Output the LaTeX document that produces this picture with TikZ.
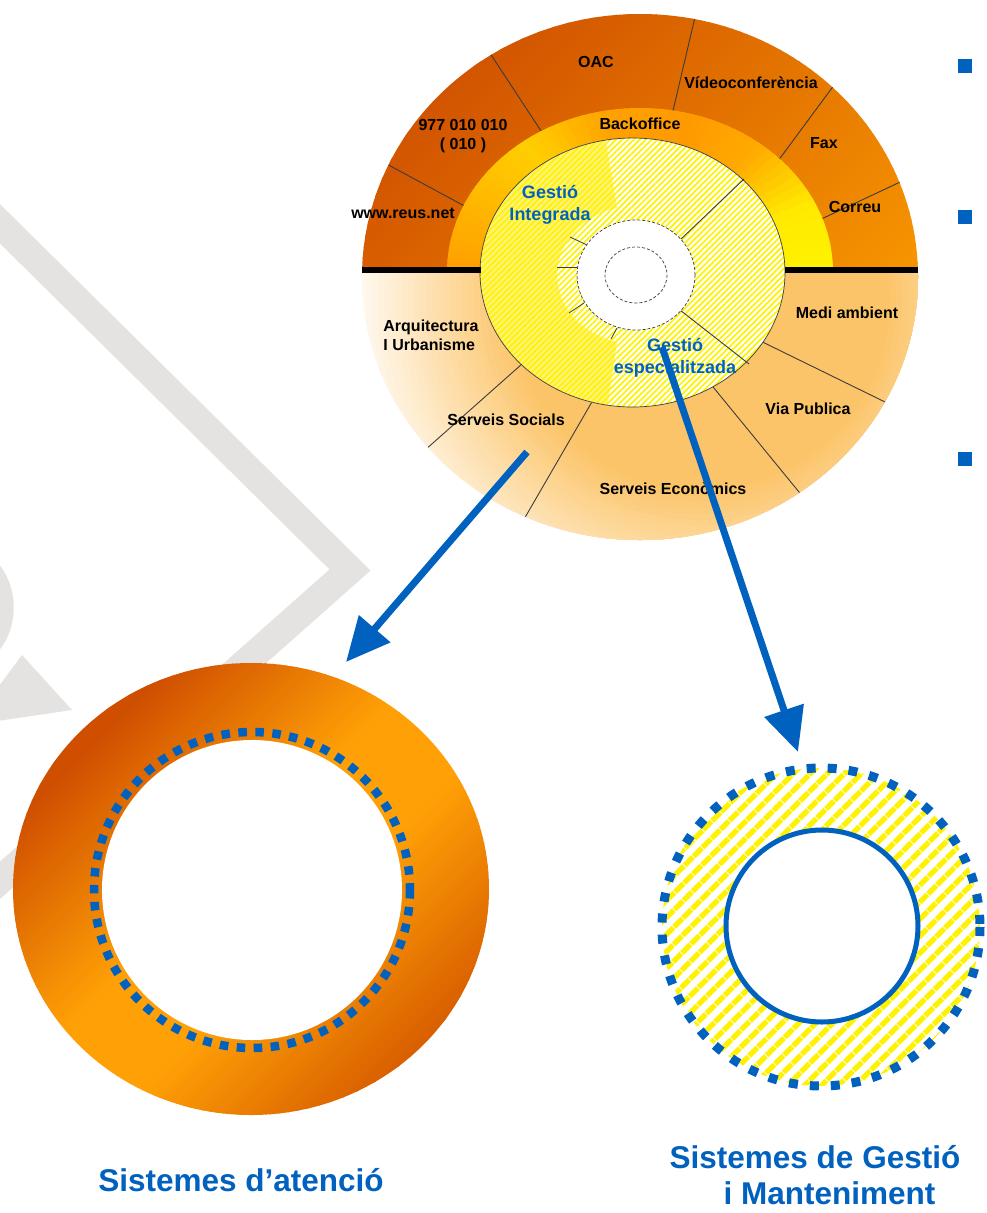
\documentclass[tikz,border=0pt]{standalone}
\usepackage{fontspec}
\setmainfont{Liberation Sans}
\usetikzlibrary{arrows.meta,patterns.meta}

\definecolor{azul}{HTML}{0062BE}
\definecolor{marca}{HTML}{E4E3E1}
\definecolor{tarongaFosc}{HTML}{D25400}
\definecolor{tarongaClar}{HTML}{F79600}
\definecolor{anellFosc}{HTML}{CF4E00}
\definecolor{anellViu}{HTML}{FFA006}
\definecolor{anellBaix}{HTML}{D96000}
\definecolor{taronjaB}{HTML}{FF9900}
\definecolor{groc}{HTML}{FFF200}
\definecolor{grocPal}{HTML}{FFF27A}
\definecolor{crema}{HTML}{FCC468}
\definecolor{linia}{HTML}{3C3C3C}

\begin{document}
\begin{tikzpicture}[x=1pt,y=-1pt,
  lbl/.style={font=\bfseries\fontsize{16}{19}\selectfont, text=black, inner sep=0pt},
  blbl/.style={font=\bfseries\fontsize{18}{22}\selectfont, text=azul, inner sep=0pt},
  titol/.style={font=\bfseries\fontsize{31.5}{36}\selectfont, text=azul, inner sep=0pt},
  divisio/.style={draw=linia, line width=0.9pt},
  tick/.style={draw=linia, line width=0.8pt},
  fletxa/.style={draw=azul, line width=7pt, -{Triangle[length=44pt,width=40pt]}},
  vinyeta/.style={fill=azul, minimum size=14pt, inner sep=0pt, draw=none},
  puntejat/.style={draw=azul, line width=9pt},
  marcaaigua/.style={draw=marca, line width=28pt, line join=miter},
  vora/.style={draw=linia, line width=0.7pt, dash pattern=on 3pt off 2pt},
]
\useasboundingbox (0,0) rectangle (987,1213);
\fill[white] (0,0) rectangle (987,1213);

% faint logo in the background
\draw[marcaaigua] (-20,204) -- (350,570) -- (-20,898);
\fill[marca] (22,655) -- (72,710) -- (-30,725) -- cycle;
\fill[marca] (-5,560) .. controls (20,585) and (20,630) .. (-5,655) -- cycle;

% ---------- left ring: Sistemes d'atencio ----------
\coordinate (atencio) at (251,889);
\begin{scope}
  \clip (251,889) ellipse [x radius=238, y radius=226];
  \foreach \s in {800,808,...,1480}{
    \ifdim\s pt<1090pt
      \pgfmathsetmacro\p{max(0,min(100,(\s-830)/2.6))}
      \colorlet{cc}{anellViu!\p!anellFosc}
    \else
      \ifdim\s pt>1230pt
        \pgfmathsetmacro\p{max(0,min(100,(\s-1230)/2.3))}
        \colorlet{cc}{anellBaix!\p!anellViu}
      \else
        \colorlet{cc}{anellViu}
      \fi
    \fi
    \fill[cc] ({\s-600},600) -- ({\s+9-600},600) -- ({\s+9-1300},1300) -- ({\s-1300},1300) -- cycle;
  }
\end{scope}
\fill[white] (252,890) circle [radius=150];
\draw[puntejat, line width=8.5pt, dash pattern=on 8.5pt off 8.5pt] (252,890) circle [radius=158];

% ---------- right ring: Sistemes de Gestio ----------
\coordinate (gestio) at (821,927);
\fill[white] (821,927) circle [radius=159];
\fill[even odd rule, pattern={Lines[angle=45,distance=13pt,line width=6pt]}, pattern color=groc]
  (821,927) circle [radius=159] (822,926) circle [radius=96];
\draw[azul, line width=5pt] (822,926) circle [radius=96];
\draw[puntejat, dash pattern=on 9pt off 12pt] (821,927) circle [radius=159];

% ---------- big wheel, upper half ----------
\begin{scope}
  \clip (300,0) rectangle (960,270);
  \clip (640,277) ellipse [x radius=278, y radius=263];
  \foreach \s in {520,530,...,1200}{
    \pgfmathsetmacro\p{max(0,min(100,(\s-534)/6.54))}
    \fill[tarongaClar!\p!tarongaFosc] ({\s+60},-60) -- ({\s+72},-60) -- ({\s+12-600},600) -- ({\s-600},600) -- cycle;
  }
  \draw[divisio] (370,155) -- (470,209);
  \draw[divisio] (480,38) -- (545,137);
  \draw[divisio] (699,0) -- (672,115);
  \draw[divisio] (860,50) -- (775,165);
  \draw[divisio] (930,168) -- (815,222);
\end{scope}

% Backoffice ring
\begin{scope}
  \clip (300,0) rectangle (960,270);
  \clip (640,272) ellipse [x radius=193, y radius=164];
  \foreach \a in {-4,-1,...,182}{
    \pgfmathsetmacro\p{max(0,min(100,(\a<20) ? 100-0.5*\a : ((\a<45) ? 90-2.8*(\a-20) : ((\a<70) ? 20-0.8*(\a-45) : ((\a<100) ? (\a-70)/3 : ((\a<130) ? 10+(50/30)*(\a-100) : ((\a<155) ? 60-(\a-130) : 35-1.25*(\a-155))))))))}
    \fill[groc!\p!taronjaB] (640,272) -- ({640+240*cos(\a)},{272-240*sin(\a)}) -- ({640+240*cos(\a+3.6)},{272-240*sin(\a+3.6)}) -- cycle;
  }
\end{scope}

% ---------- big wheel, lower half ----------
\begin{scope}
  \clip (300,270) rectangle (960,560);
  \clip (640,277) ellipse [x radius=278, y radius=263];
  \fill[white] (300,270) rectangle (960,560);
  \foreach \r in {400,394,...,4}{
    \pgfmathsetmacro\p{max(0,min(100,(360-\r)/1.7))}
    \fill[crema!\p!white] (700,300) circle [radius=\r];
  }
  \draw[divisio] (380,490) -- (540,348);
  \draw[divisio] (505,552) -- (600,388);
  \draw[divisio] (835,536) -- (700,371);
  \draw[divisio] (930,424) -- (740,331);
\end{scope}

% inner disc: specialised and integrated management
\fill[white] (632.5,272.5) ellipse [x radius=152.5, y radius=134.5];
\fill[pattern={Lines[angle=45,distance=4.2pt,line width=1.7pt]}, pattern color=groc]
  (632.5,272.5) ellipse [x radius=152.5, y radius=134.5];
\begin{scope}
  \clip (632.5,272.5) ellipse [x radius=152.5, y radius=134.5];
  \fill[grocPal] (605,136) -- (617,208) arc[start angle=256, end angle=104, x radius=79, y radius=69]
    -- (607,410) -- (470,420) -- (470,125) -- cycle;
  \fill[pattern={Lines[angle=45,distance=4.2pt,line width=1.7pt]}, pattern color=groc]
    (605,136) -- (617,208) arc[start angle=256, end angle=104, x radius=79, y radius=69]
    -- (607,410) -- (470,420) -- (470,125) -- cycle;
\end{scope}
\draw[linia, line width=0.7pt] (632.5,272.5) ellipse [x radius=152.5, y radius=134.5];

% spokes inside the disc
\draw[tick] (570,237) -- (587,245);
\draw[tick] (557,267) -- (578,267);
\draw[tick] (569,313) -- (584,303);
\draw[tick] (611,339) -- (617,328);
\draw[divisio] (680,240) -- (744,179);
\draw[divisio] (680,310) -- (749,364);

% hub
\fill[white] (636,275) ellipse [x radius=59, y radius=55];
\draw[vora] (636,275) ellipse [x radius=59, y radius=55];
\draw[vora] (636,275) ellipse [x radius=31, y radius=28];

% black separator
\draw[line width=6pt] (362,270) -- (481,270);
\draw[line width=6pt] (785,270) -- (918,270);

% ---------- labels ----------
\node[lbl] (oac) at (596,62) {OAC};
\node[lbl] (video) at (751,83) {Vídeoconferència};
\node[lbl, align=center] (tel) at (463,136) {977 010 010\\( 010 )};
\node[lbl] (back) at (640,124) {Backoffice};
\node[lbl] (fax) at (824,143) {Fax};
\node[lbl] (correu) at (855,207) {Correu};
\node[lbl] (web) at (403,213) {www.reus.net};
\node[blbl, align=center] (gi) at (550,205) {Gestió\\Integrada};
\node[lbl] (medi) at (847,313) {Medi ambient};
\node[lbl, align=left] (arq) at (431,335) {Arquitectura\\I Urbanisme};
\node[blbl, align=center] (ge) at (675,358) {Gestió\\especialitzada};
\node[lbl] (socials) at (506,420) {Serveis Socials};
\node[lbl] (via) at (808,409) {Via Publica};
\node[lbl] (econ) at (673,489) {Serveis Econòmics};

% ---------- arrows ----------
\coordinate (iniciSocials) at (527,452);
\coordinate (fiAtencio) at (346,662);
\coordinate (iniciEspec) at (662,347);
\coordinate (fiGestio) at (798,752);
\draw[fletxa] (iniciSocials) -- (fiAtencio);
\draw[fletxa] (iniciEspec) -- (fiGestio);

% bullets
\node[vinyeta] (v1) at (965,66) {};
\node[vinyeta] (v2) at (965,217) {};
\node[vinyeta] (v3) at (965,459) {};

% titles
\node[titol] (tAtencio) at (241,1180) {Sistemes d’atenció};
\node[titol, align=left] (tGestio) at (815,1175) {Sistemes de Gestió\\\hspace*{54pt}i Manteniment};
\end{tikzpicture}
\end{document}
